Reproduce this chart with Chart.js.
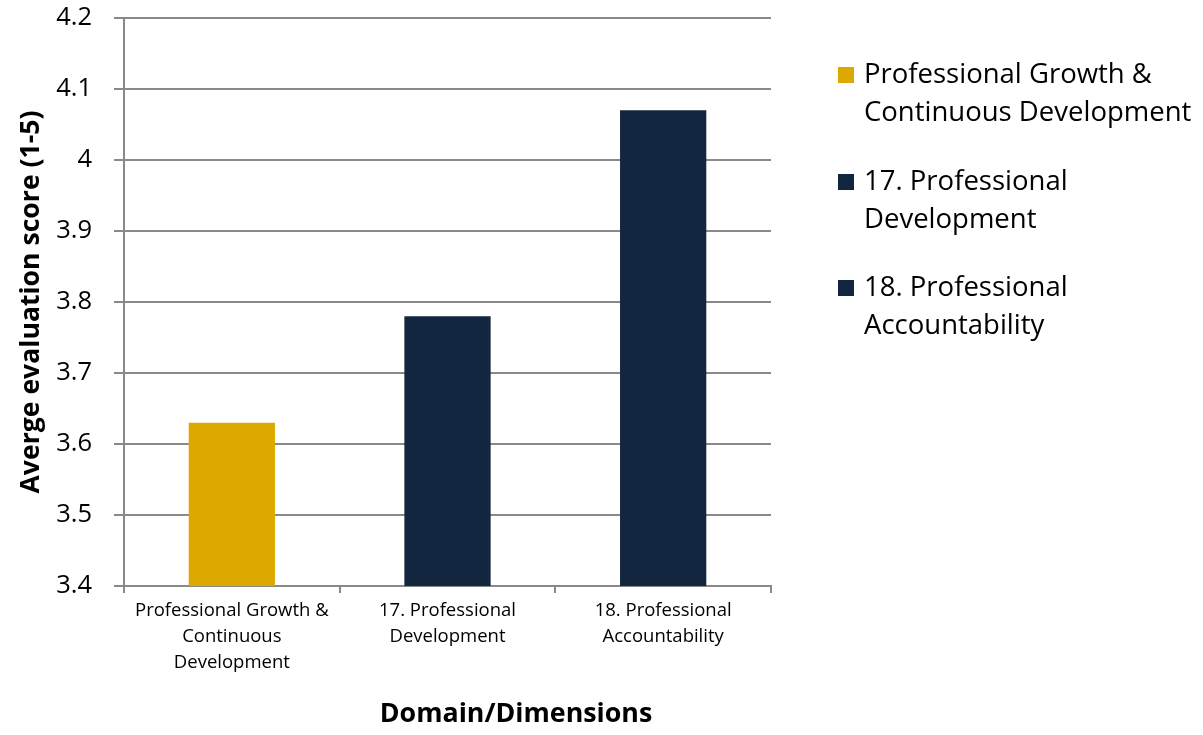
<!DOCTYPE html>
<html>
<head>
<meta charset="utf-8">
<script src="https://cdn.jsdelivr.net/npm/chart.js@4"></script>
<style>
html,body{margin:0;padding:0;background:#fff;}
#wrap{position:relative;width:1203px;height:735px;}
</style>
</head>
<body>
<div id="wrap"><canvas id="c" width="1203" height="735"></canvas></div>
<script>
const categories = [
  ["Professional Growth &", "Continuous", "Development"],
  ["17. Professional", "Development"],
  ["18. Professional", "Accountability"]
];
const legendLabels = [
  ["Professional Growth &", "Continuous Development"],
  ["17. Professional", "Development"],
  ["18. Professional", "Accountability"]
];
const scores = [3.63, 3.78, 4.07];
const barColors = ["#DDA900", "#13263F", "#13263F"];
const yTicks = [3.4, 3.5, 3.6, 3.7, 3.8, 3.9, 4.0, 4.1, 4.2];
const xTitle = "Domain/Dimensions";
const yTitle = "Averge evaluation score (1-5)";

const FONT = "'Open Sans', sans-serif";
const gridColor = "#898989";

const legendPlugin = {
  id: "sideLegend",
  afterDraw(chart) {
    const ctx = chart.ctx;
    ctx.save();
    ctx.font = "27.5px " + FONT;
    ctx.textBaseline = "middle";
    const x0 = 838, tx = 864;
    const starts = [75, 182, 288];
    legendLabels.forEach((lines, i) => {
      const y = starts[i];
      ctx.fillStyle = barColors[i];
      ctx.fillRect(x0, y - 8, 16, 16);
      ctx.fillStyle = "#000";
      lines.forEach((ln, j) => ctx.fillText(ln, tx, y + j * 38));
    });
    // x axis title (centred on the whole figure as in the original)
    ctx.font = "bold 26.8px " + FONT;
    ctx.textAlign = "center";
    ctx.fillStyle = "#000";
    ctx.fillText(xTitle, 516, 714);
    ctx.restore();
  }
};

new Chart(document.getElementById("c"), {
  type: "bar",
  data: {
    labels: categories,
    datasets: [{
      data: scores,
      backgroundColor: barColors,
      barPercentage: 0.4,
      categoryPercentage: 1.0
    }]
  },
  options: {
    responsive: false,
    animation: false,
    layout: { padding: { left: 15, top: 0, right: 1203 - 771, bottom: 0 } },
    plugins: { legend: { display: false }, tooltip: { enabled: false } },
    scales: {
      y: {
        min: 3.4, max: 4.2,
        afterBuildTicks(scale) { scale.ticks = yTicks.map(v => ({ value: v })); },
        afterFit(scale) { scale.width = 124 - 15; scale.paddingTop = 18; },
        ticks: {
          color: "#000",
          font: { family: FONT, size: 25.5, lineHeight: 1.0 },
          padding: 22,
          callback: v => String(Math.round(v * 10) / 10)
        },
        grid: { color: gridColor, lineWidth: 2, tickLength: 10, drawTicks: true },
        border: { color: gridColor, width: 2 },
        title: {
          display: true,
          text: yTitle,
          color: "#000",
          font: { family: FONT, size: 26.6, weight: "bold" },
          padding: { top: 0, bottom: 2 }
        }
      },
      x: {
        afterFit(scale) { scale.height = 735 - 586; },
        ticks: {
          color: "#000",
          font: { family: FONT, size: 18.5, lineHeight: 1.4 },
          padding: 5,
          maxRotation: 0,
          autoSkip: false
        },
        grid: { drawOnChartArea: false, drawTicks: true, tickLength: 7, color: gridColor, lineWidth: 2, offset: true },
        border: { color: gridColor, width: 2 },
        title: { display: false }
      }
    }
  },
  plugins: [legendPlugin]
});
</script>
</body>
</html>
